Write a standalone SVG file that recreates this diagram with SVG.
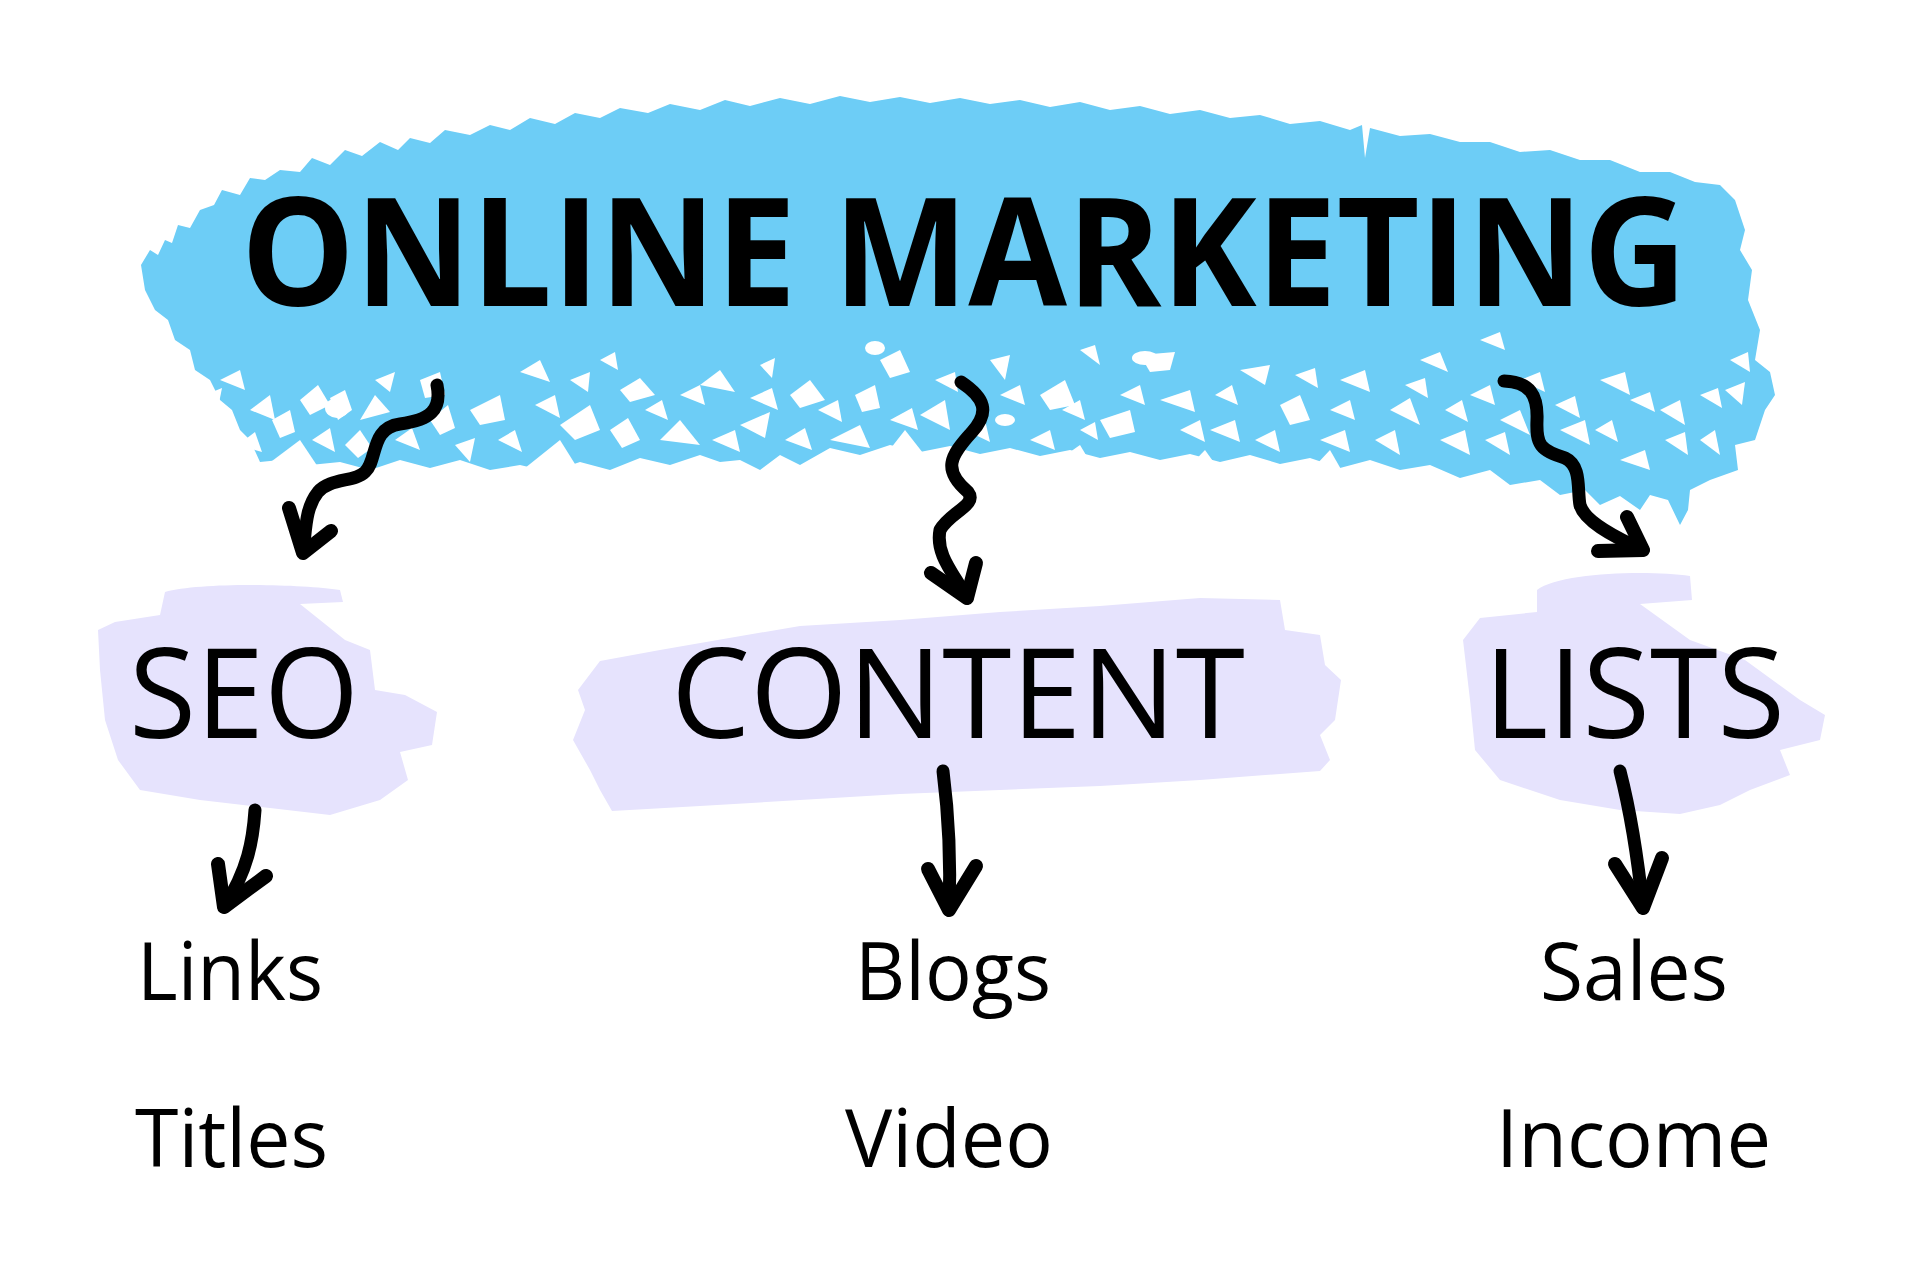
<svg xmlns="http://www.w3.org/2000/svg" width="1920" height="1281" viewBox="0 0 1920 1281">
<style>
.title{font-family:"Open Sans","Liberation Sans",sans-serif;font-weight:700;font-size:150px;fill:#000}
.node{font-family:"Open Sans","Liberation Sans",sans-serif;font-size:125px;fill:#000}
.item{font-family:"Open Sans","Liberation Sans",sans-serif;font-size:81px;fill:#000}
.blue{fill:#6DCDF6}
.lav{fill:#E6E3FD}
.fleck{fill:#fff}
.line{fill:none;stroke:#000;stroke-width:13;stroke-linecap:round;stroke-linejoin:round}
.head{fill:none;stroke:#000;stroke-width:14;stroke-linecap:round;stroke-linejoin:round}
</style>
<rect width="1920" height="1281" fill="#fff"/>
<g id="title">
<path class="blue" d="M141,265 L150,250 L158,255 L165,240 L172,243 L178,225 L190,228 L200,210 L214,205 L222,190 L240,195 L250,178 L265,180 L280,170 L300,172 L312,158 L330,165 L345,150 L362,156 L380,142 L398,150 L410,138 L430,143 L445,130 L470,135 L490,125 L510,130 L530,118 L555,124 L575,113 L600,118 L620,108 L648,113 L670,104 L700,110 L725,100 L750,106 L780,98 L810,104 L840,96 L870,102 L900,97 L930,103 L960,98 L990,104 L1020,100 L1050,107 L1080,102 L1110,110 L1140,106 L1170,114 L1200,110 L1230,118 L1260,115 L1290,124 L1320,121 L1350,130 L1362,125 L1365,158 L1370,128 L1400,136 L1430,134 L1460,142 L1490,142 L1520,152 L1550,150 L1580,160 L1610,160 L1640,172 L1670,172 L1695,182 L1720,185 L1735,200 L1745,230 L1740,250 L1752,270 L1748,300 L1760,330 L1755,360 L1770,372 L1775,395 L1765,410 L1755,440 L1735,445 L1738,470 L1710,480 L1690,490 L1688,510 L1680,525 L1668,500 L1650,495 L1640,510 L1620,496 L1600,505 L1585,490 L1560,495 L1540,480 L1510,485 L1490,470 L1460,478 L1430,465 L1400,470 L1370,460 L1340,468 L1310,458 L1280,464 L1250,455 L1220,462 L1190,454 L1160,460 L1130,452 L1100,458 L1070,450 L1040,456 L1010,448 L980,454 L950,446 L920,452 L890,445 L860,455 L830,448 L800,465 L780,455 L760,470 L740,460 L720,462 L700,455 L670,465 L640,458 L610,470 L580,462 L550,472 L520,465 L490,470 L460,460 L430,468 L400,460 L370,470 L340,462 L310,465 L290,470 L280,460 L260,462 L250,440 L240,430 L232,410 L220,400 L210,380 L195,370 L190,350 L175,340 L168,320 L155,310 L145,290 Z"/>
<g class="fleck">
<polygon points="300,400 318,385 330,405 310,415"/>
<polygon points="360,420 375,395 390,412"/>
<polygon points="420,380 440,372 445,395 425,398"/>
<polygon points="470,410 500,395 505,420 480,425"/>
<polygon points="520,372 540,360 550,382"/>
<polygon points="560,425 590,405 600,430 575,440"/>
<polygon points="620,390 640,378 655,395 630,402"/>
<polygon points="660,440 680,420 700,445"/>
<polygon points="700,385 720,370 735,392"/>
<polygon points="740,425 770,412 765,438"/>
<polygon points="790,395 810,380 825,400 800,408"/>
<polygon points="830,440 860,425 870,448"/>
<polygon points="880,360 900,350 910,372 890,378"/>
<polygon points="920,415 945,400 950,430"/>
<polygon points="990,360 1010,355 1005,380"/>
<polygon points="1040,395 1065,380 1075,405 1050,410"/>
<polygon points="1080,350 1095,345 1100,365"/>
<polygon points="1100,420 1130,410 1135,432 1110,438"/>
<polygon points="1140,355 1175,352 1170,370 1150,372"/>
<polygon points="1160,400 1190,390 1195,412"/>
<polygon points="1210,430 1235,420 1240,442"/>
<polygon points="1240,370 1270,365 1265,385"/>
<polygon points="1280,405 1300,395 1310,420 1290,425"/>
<polygon points="1320,440 1345,430 1350,452"/>
<polygon points="1340,380 1365,370 1370,392"/>
<polygon points="1390,410 1410,398 1420,425"/>
<polygon points="1420,360 1440,352 1448,372"/>
<polygon points="1440,440 1465,430 1470,455"/>
<polygon points="1470,395 1490,385 1495,405"/>
<polygon points="1500,420 1520,410 1530,435"/>
<polygon points="1560,430 1585,420 1590,445"/>
<polygon points="1600,380 1625,372 1630,395"/>
<polygon points="1620,460 1645,450 1650,470"/>
<polygon points="1660,410 1680,400 1685,425"/>
<polygon points="1700,440 1715,430 1720,455"/>
<polygon points="1480,340 1500,332 1505,350"/>
<polygon points="250,410 270,395 275,420"/>
<polygon points="220,380 240,370 245,390"/>
<polygon points="330,398 345,390 352,410 338,420"/>
<polygon points="375,380 395,372 390,392"/>
<polygon points="1080,430 1095,422 1098,440"/>
<polygon points="1725,390 1745,382 1742,405"/>
<polygon points="600,360 615,352 618,370"/>
<polygon points="760,365 775,358 772,378"/>
<polygon points="205,395 222,388 218,408"/>
<polygon points="238,445 255,432 262,452"/>
<polygon points="272,420 290,410 295,432 280,438"/>
<polygon points="312,440 330,428 335,452"/>
<polygon points="345,445 360,430 372,448 358,458"/>
<polygon points="395,440 412,428 420,450"/>
<polygon points="430,420 448,405 455,428 440,435"/>
<polygon points="455,445 475,438 470,462"/>
<polygon points="498,440 515,430 522,452"/>
<polygon points="535,405 555,395 560,418"/>
<polygon points="570,380 590,372 588,392"/>
<polygon points="610,430 628,418 640,440 622,448"/>
<polygon points="645,410 662,400 668,420"/>
<polygon points="680,395 700,385 705,405"/>
<polygon points="712,440 735,430 740,452"/>
<polygon points="750,398 772,388 778,410"/>
<polygon points="785,440 805,428 812,450"/>
<polygon points="818,410 838,400 842,422"/>
<polygon points="855,395 875,385 880,408 862,412"/>
<polygon points="890,420 912,408 918,430"/>
<polygon points="935,380 955,372 958,392"/>
<polygon points="965,430 985,420 990,442"/>
<polygon points="1000,395 1020,385 1025,405"/>
<polygon points="1030,440 1050,430 1055,450"/>
<polygon points="1062,410 1080,400 1085,420"/>
<polygon points="1120,395 1140,385 1145,405"/>
<polygon points="1180,430 1200,420 1205,442"/>
<polygon points="1215,395 1232,385 1238,405"/>
<polygon points="1255,440 1275,430 1280,452"/>
<polygon points="1295,375 1315,368 1318,388"/>
<polygon points="1330,410 1350,400 1355,420"/>
<polygon points="1375,440 1395,430 1400,455"/>
<polygon points="1405,385 1425,378 1428,398"/>
<polygon points="1445,410 1462,400 1468,422"/>
<polygon points="1485,440 1505,432 1510,455"/>
<polygon points="1520,380 1540,372 1545,392"/>
<polygon points="1555,405 1575,396 1580,418"/>
<polygon points="1595,430 1612,420 1618,442"/>
<polygon points="1630,400 1650,392 1655,412"/>
<polygon points="1665,440 1685,432 1688,455"/>
<polygon points="1700,395 1718,388 1722,408"/>
<polygon points="1730,360 1748,352 1750,372"/>
<polygon points="260,470 300,440 320,470"/>
<polygon points="520,472 560,440 580,472"/>
<polygon points="880,462 905,430 930,462"/>
<polygon points="1300,482 1330,450 1350,485"/>
<polygon points="1050,466 1080,445 1095,470"/>
<polygon points="1180,476 1205,450 1225,478"/>
<ellipse cx="1145" cy="358" rx="13" ry="7"/>
<ellipse cx="875" cy="348" rx="10" ry="7"/>
<ellipse cx="337" cy="408" rx="12" ry="10"/>
<ellipse cx="1005" cy="420" rx="10" ry="6"/>
</g>
<text class="title" x="241" y="306" textLength="1446" lengthAdjust="spacingAndGlyphs">ONLINE MARKETING</text>
</g>
<g id="seo">
<path class="lav" d="M165,592 C200,582 300,584 340,590 L343,602 L300,604 L345,640 L370,650 L375,690 L405,695 L437,712 L432,745 L400,752 L408,780 L380,800 L330,815 L270,808 L200,800 L140,790 L118,760 L105,720 L100,670 L98,630 L115,622 L160,615 Z"/>
<text class="node" x="129" y="738" textLength="230" lengthAdjust="spacingAndGlyphs">SEO</text>
</g>
<g id="content">
<path class="lav" d="M735,637 L800,626 L900,620 L1000,612 L1100,606 L1200,598 L1280,600 L1285,630 L1320,635 L1325,665 L1341,680 L1335,720 L1320,735 L1330,760 L1320,771 L1200,780 L1100,786 L1000,790 L900,794 L800,800 L700,806 L612,811 L600,790 L590,770 L573,740 L585,710 L578,690 L600,661 L660,650 Z"/>
<text class="node" x="671" y="738" textLength="574" lengthAdjust="spacingAndGlyphs">CONTENT</text>
</g>
<g id="lists">
<path class="lav" d="M1537,590 C1560,572 1650,570 1690,576 L1692,600 L1640,604 L1690,640 L1745,660 L1800,700 L1825,715 L1820,740 L1780,750 L1790,775 L1750,790 L1720,805 L1680,814 L1620,810 L1560,800 L1500,780 L1475,750 L1470,700 L1463,640 L1480,618 L1537,612 Z"/>
<text class="node" x="1484" y="738" textLength="301" lengthAdjust="spacingAndGlyphs">LISTS</text>
</g>
<g id="links"><text class="item" x="137" y="1000" textLength="186" lengthAdjust="spacingAndGlyphs">Links</text></g>
<g id="titles"><text class="item" x="135" y="1167" textLength="193" lengthAdjust="spacingAndGlyphs">Titles</text></g>
<g id="blogs"><text class="item" x="855" y="1000" textLength="196" lengthAdjust="spacingAndGlyphs">Blogs</text></g>
<g id="video"><text class="item" x="845" y="1167" textLength="208" lengthAdjust="spacingAndGlyphs">Video</text></g>
<g id="sales"><text class="item" x="1540" y="1000" textLength="188" lengthAdjust="spacingAndGlyphs">Sales</text></g>
<g id="income"><text class="item" x="1496" y="1167" textLength="275" lengthAdjust="spacingAndGlyphs">Income</text></g>
<g id="connectors">
<path class="line" d="M437,385 C442,410 430,420 400,424 C370,428 378,460 365,472 C355,482 330,478 318,492 C305,508 306,530 303,552"/>
<path class="head" d="M289,508 L303,553 L331,531"/>
<path class="line" d="M961,382 C985,398 990,412 972,432 C950,456 942,470 968,492 C978,505 950,512 940,530 C935,555 955,575 967,598"/>
<path class="head" d="M931,573 L967,598 L976,563"/>
<path class="line" d="M1504,381 C1530,382 1538,395 1537,420 C1536,445 1540,450 1565,458 C1582,466 1577,490 1580,505 C1584,520 1610,535 1643,550"/>
<path class="head" d="M1627,517 L1643,550 L1598,551"/>
<path class="line" d="M255,810 C253,840 248,870 224,907"/>
<path class="head" d="M218,864 L224,907 L266,876"/>
<path class="line" d="M943,771 C948,810 951,860 949,910"/>
<path class="head" d="M928,869 L949,910 L976,866"/>
<path class="line" d="M1620,771 C1630,810 1638,860 1643,908"/>
<path class="head" d="M1615,864 L1643,908 L1662,858"/>
</g>
</svg>
